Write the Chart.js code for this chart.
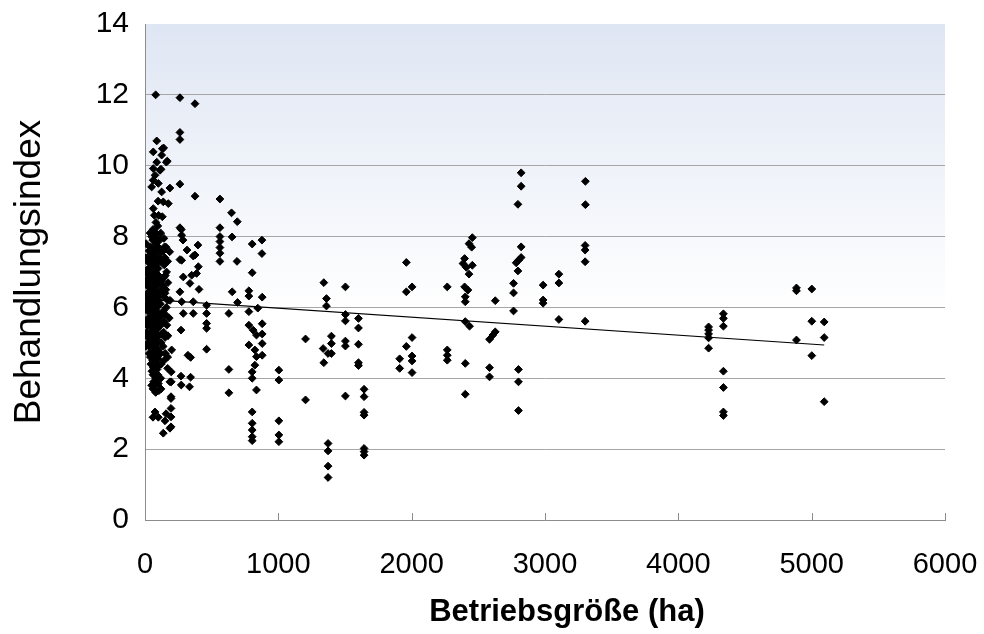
<!DOCTYPE html>
<html>
<head>
<meta charset="utf-8">
<script src="https://cdn.jsdelivr.net/npm/chart.js@4.4.1/dist/chart.umd.min.js"></script>
<style>
  html, body { margin: 0; padding: 0; background: #fff; }
  #chart { display: block; }
</style>
</head>
<body>
<canvas id="chart" width="984" height="634"></canvas>
<script>
// Betriebsgröße (ha) / Behandlungsindex
const kleinBetriebe = [
  [8,7.8],[8,7.4],[8,7.0],[8,6.7],[8,6.3],[8,5.95],[8,5.6],[8,5.2],[8,4.9],
  [12,6.1],[15,5.3],[18,6.8],[20,7.3],[22,5.0],[24,6.4],[25,5.7],[28,7.1],[18,5.9],[20,6.6],[30,6.0],[16,5.5],[26,6.25],[14,7.05],
  [30,7.6],[30,6.9],[32,6.45],[30,5.15],[32,4.95],[30,4.7],
  [38,8.1],[40,7.7],[42,7.5],[36,7.25],[40,7.0],[44,6.8],[38,6.55],[42,6.3],[40,6.1],[36,5.9],[44,5.7],[40,5.45],[38,5.25],[42,5.05],[46,4.85],[40,4.6],[44,4.4],
  [50,8.0],[50,7.4],[52,6.85],[50,6.55],[52,6.15],[50,5.55],[52,5.25],[50,4.6],[52,4.2],[50,3.8],
  [50,9.4],[62,8.79],[60,8.2],[58,7.9],[62,7.6],[56,7.35],[60,7.15],[64,6.95],[58,6.7],[62,6.45],[56,6.25],[60,6.0],[64,5.8],[58,5.6],[62,5.35],[56,5.15],[60,4.95],[64,4.75],[58,4.5],[62,4.3],[60,4.1],[64,3.9],[60,3.7],[62,10.39],[62,9.92],[62,9.59],[60,2.9],
  [70,8.6],[70,7.65],[72,7.25],[70,6.9],[72,6.5],[70,6.05],[72,5.6],[70,5.2],[72,4.8],[70,4.3],[72,3.9],
  [80,12.0],[88,10.7],[75,9.73],[82,8.4],[78,8.0],[85,8.09],[80,7.8],[76,7.45],[82,7.2],[78,7.0],[84,6.8],[80,6.6],[76,6.35],[82,6.15],[78,5.95],[84,5.7],[80,5.5],[76,5.3],[82,5.1],[78,4.9],[84,4.65],[80,4.45],[76,4.2],[82,4.0],[78,3.8],[80,3.6],[75,3.05],[88,10.1],
  [90,7.6],[92,7.3],[90,6.75],[92,6.3],[90,6.0],[92,5.55],[90,5.0],[92,4.6],[90,4.25],
  [100,9.5],[98,9.0],[102,8.6],[96,8.3],[110,7.9],[100,7.7],[104,7.4],[98,7.1],[102,6.9],[96,6.65],[104,6.4],[100,6.2],[98,5.85],[102,5.6],[96,5.4],[104,5.2],[100,4.8],[98,4.55],[102,4.35],[96,4.1],[100,3.85],[104,3.65],[100,2.9],[112,9.87],
  [130,10.48],[125,10.3],[120,9.9],[125,9.26],[118,8.1],[122,7.55],[118,7.3],[124,6.75],[120,6.5],[116,6.1],[122,5.75],[118,5.5],[124,5.25],[120,5.0],[116,4.7],[122,4.4],[118,4.0],[120,3.7],
  [140,10.5],[167,10.13],[137,8.98],[130,8.56],[147,7.71],[142,7.95],[138,7.6],[144,7.2],[140,6.85],[136,6.6],[142,6.3],[138,5.9],[144,5.6],[140,5.3],[136,4.9],[142,4.5],[137,2.45],[150,2.8],
  [150,7.4],[152,6.9],[150,6.4],[152,5.8],[150,5.15],[152,4.7],
  [160,10.1],[175,8.93],[158,7.7],[162,7.0],[156,6.5],[160,6.0],[164,5.5],[170,4.28],[158,3.0],
  [170,7.3],[172,6.7],[170,6.2],[172,5.2],[170,4.6],
  [187,9.37],[185,7.57],[188,6.2],[182,5.7],[200,4.8],[187,3.9],[187,2.59],[197,4.18],[197,3.9],[195,3.48],[195,3.43],[195,3.15],[195,2.91],[195,2.63]
];

const mittelBetriebe = [
  [262,11.92],[262,10.94],[262,10.74],[262,9.48],[262,8.25],[272,8.2],[275,8.04],[285,7.9],[262,7.35],[275,7.33],[287,6.86],[262,6.44],[275,6.16],[287,5.83],[270,5.36],[270,4.06],[272,3.81],
  [375,11.75],[375,9.14],[315,7.62],[362,7.45],[375,7.48],[397,7.76],[400,7.15],[387,6.96],[350,6.91],[337,6.68],[362,6.16],[362,5.83],[322,4.65],[342,4.59],[342,4.03],[334,3.76],
  [405,6.51],[462,6.06],[462,5.83],[462,5.55],[462,5.41],[462,4.82],
  [562,9.06],[562,8.25],[562,8.0],[562,7.86],[562,7.69],[562,7.53],[562,7.3],
  [649,8.67],[692,8.42],[653,7.99],[690,7.3],[654,6.44],[694,6.14],[629,5.83],[629,4.25],[629,3.59],
  [804,7.79],[877,7.9],[877,7.52],[804,6.98],[779,6.47],[779,6.32],[879,6.29],[846,5.98],[779,5.88],[879,5.54],[779,5.5],[811,5.36],[879,5.25],[836,5.22],[879,4.98],[779,4.94],[824,4.8],[879,4.65],[836,4.61],[824,4.37],[804,4.18],[804,4.0],[836,3.67],[804,3.05],[804,2.73],[804,2.54],[804,2.35],[804,2.24],
  [1004,4.23],[1004,3.95],[1004,2.8],[1004,2.4],[1004,2.21],
  [1204,5.11],[1204,3.39],
  [1341,6.7],[1361,6.25],[1361,6.04],[1336,4.84],[1373,4.7],[1398,4.7],[1398,4.98],[1398,5.19],[1341,4.44],[1373,2.16],[1373,1.95],[1373,1.52],[1373,1.2],
  [1503,6.58],[1503,5.8],[1503,5.62],[1503,5.05],[1503,4.91],[1503,3.5],
  [1601,5.69],[1601,5.42],[1601,4.96],[1601,4.44],[1601,4.36],[1643,3.69],[1643,3.48],[1643,3.04],[1643,2.96],[1643,2.02],[1643,1.93],[1643,1.83]
];

const grossBetriebe = [
  [1960,7.27],[1960,6.44],[2003,6.58],[2003,5.15],[1960,4.9],[1910,4.55],[1910,4.28],[2003,4.63],[2003,4.49],[2003,4.16],
  [2267,6.58],[2267,4.8],[2267,4.65],[2267,4.51],
  [2455,7.97],[2430,7.8],[2450,7.7],[2397,7.38],[2385,7.24],[2410,7.13],[2455,7.19],[2430,6.94],[2397,6.58],[2422,6.49],[2402,6.3],[2402,6.16],[2402,5.6],[2434,5.47],[2402,4.42],[2402,3.55],
  [2627,6.19],[2627,5.31],[2609,5.22],[2584,5.1],[2584,4.3],[2584,4.04],
  [2821,9.8],[2821,9.42],[2797,8.91],[2821,7.71],[2821,7.41],[2801,7.33],[2784,7.26],[2797,7.03],[2764,6.68],[2764,6.41],[2764,5.9],[2801,4.25],[2801,3.9],[2801,3.09],
  [2986,6.63],[2986,6.21],[2986,6.12],
  [3104,6.94],[3104,6.69],[3104,5.66],
  [3303,9.56],[3303,8.9],[3301,7.75],[3301,7.62],[3301,7.29],[3301,5.61],
  [4227,5.45],[4227,5.36],[4227,5.25],[4227,5.14],[4227,4.85],
  [4338,5.82],[4338,5.69],[4338,5.47],[4338,4.2],[4338,3.74],[4338,3.05],[4338,2.95],
  [4886,6.55],[4886,6.47],[4886,5.08],
  [5001,6.52],[5001,5.61],[5001,4.64],
  [5094,5.59],[5094,5.15],[5094,3.34]
];

// linear trend, both ends
const trendLinie = [[20, 6.23], [5094, 4.94]];

const xMin = 0, xMax = 6000, xStep = 1000;
const yMin = 0, yMax = 14, yStep = 2;

const FONT = "'Liberation Sans', Arial, sans-serif";
const X_TITLE = 'Betriebsgröße (ha)';

const toXY = arr => arr.map(p => ({ x: p[0], y: p[1] }));
const allPoints = toXY(kleinBetriebe).concat(toXY(mittelBetriebe), toXY(grossBetriebe));

// light blue fading to white behind the plot
const plotBackground = {
  id: 'plotBackground',
  beforeDraw(chart) {
    const { ctx, chartArea: a } = chart;
    ctx.save();
    ctx.fillStyle = '#ffffff';
    ctx.fillRect(0, 0, chart.width, chart.height);
    const g = ctx.createLinearGradient(0, a.top, 0, a.bottom);
    g.addColorStop(0, '#dfe6f3');
    g.addColorStop(0.58, '#ffffff');
    g.addColorStop(1, '#ffffff');
    ctx.fillStyle = g;
    ctx.fillRect(a.left, a.top, a.right - a.left, a.bottom - a.top);
    ctx.restore();
  }
};

// small tick marks on the x axis pointing up into the plot, and the x title
// (which sits a little right of the plot centre in the original)
const xAxisExtras = {
  id: 'xAxisExtras',
  afterDraw(chart) {
    const { ctx, chartArea: a } = chart;
    const xs = chart.scales.x;
    ctx.save();
    ctx.strokeStyle = '#8c8c8c';
    ctx.lineWidth = 1;
    xs.ticks.forEach(t => {
      if (t.value === xMin) return;
      const px = Math.round(xs.getPixelForValue(t.value)) + 0.5;
      ctx.beginPath();
      ctx.moveTo(px, a.bottom);
      ctx.lineTo(px, a.bottom - 7);
      ctx.stroke();
    });
    ctx.fillStyle = '#000';
    ctx.font = 'bold 31px ' + FONT;
    ctx.textAlign = 'center';
    ctx.textBaseline = 'middle';
    ctx.fillText(X_TITLE, (a.left + a.right) / 2 + 22, chart.height - 22);
    ctx.restore();
  }
};

const ctx = document.getElementById('chart').getContext('2d');
new Chart(ctx, {
  type: 'scatter',
  data: {
    datasets: [
      {
        label: 'Betriebe',
        data: allPoints,
        pointStyle: 'rectRot',
        pointRadius: 3.9,
        pointBackgroundColor: '#000',
        pointBorderColor: '#000',
        pointBorderWidth: 1,
        order: 1
      },
      {
        label: 'Trend',
        type: 'line',
        data: toXY(trendLinie),
        borderColor: '#000',
        borderWidth: 1.2,
        pointRadius: 0,
        fill: false,
        order: 2
      }
    ]
  },
  options: {
    responsive: false,
    animation: false,
    layout: { padding: { top: 24, right: 39, left: 0, bottom: 0 } },
    plugins: {
      legend: { display: false },
      tooltip: { enabled: false }
    },
    scales: {
      x: {
        type: 'linear',
        min: xMin,
        max: xMax,
        afterFit(scale) {
          scale.height = 114;
          scale.paddingLeft = 0;
          scale.paddingRight = 0;
        },
        ticks: {
          stepSize: xStep,
          padding: 28,
          color: '#000',
          font: { family: FONT, size: 29 },
          maxRotation: 0,
          callback: v => String(v)
        },
        grid: { display: false, drawTicks: false },
        border: { display: true, color: '#8c8c8c', width: 1 },
        title: { display: false }
      },
      y: {
        type: 'linear',
        min: yMin,
        max: yMax,
        afterFit(scale) {
          scale.width = 145;
          scale.paddingTop = 0;
          scale.paddingBottom = 0;
        },
        ticks: {
          stepSize: yStep,
          padding: 16,
          color: '#000',
          font: { family: FONT, size: 30 }
        },
        grid: {
          drawTicks: false,
          color: c => (c.tick.value === yMax ? 'rgba(0,0,0,0)' : '#a6a6a6'),
          lineWidth: 1
        },
        border: { display: true, color: '#8c8c8c', width: 1 },
        title: {
          display: true,
          text: 'Behandlungsindex',
          color: '#000',
          font: { family: FONT, size: 37 },
          padding: { top: 8, bottom: 0 }
        }
      }
    }
  },
  plugins: [plotBackground, xAxisExtras]
});
</script>
</body>
</html>
